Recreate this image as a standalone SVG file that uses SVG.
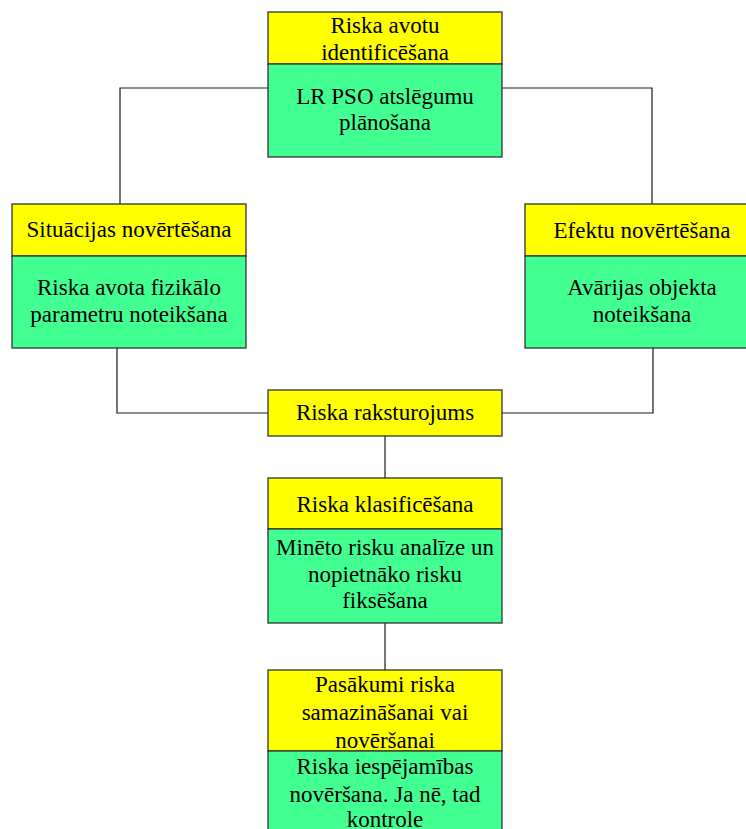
<svg xmlns="http://www.w3.org/2000/svg" width="746" height="829" viewBox="0 0 746 829">
  <style>
    .hdr { fill: #FFFF00; stroke: #333333; stroke-width: 1.3; }
    .body { fill: #42FF92; stroke: #333333; stroke-width: 1.3; }
    .lbl { font-family: "Liberation Serif", "Times New Roman", serif; font-size: 23px; fill: #000000; text-anchor: middle; }
    .wire { fill: none; stroke: #1a1a1a; stroke-width: 1.2; }
  </style>
  <rect width="746" height="829" fill="#ffffff"/>

  <!-- connectors -->
  <g id="connectors">
    <polyline class="wire" points="268,88 120,88 120,204"/>
    <polyline class="wire" points="502,88 652,88 652,204"/>
    <polyline class="wire" points="117,348 117,413 268,413"/>
    <polyline class="wire" points="653,348 653,413 502,413"/>
    <line class="wire" x1="385" y1="436" x2="385" y2="478"/>
    <line class="wire" x1="385" y1="623" x2="385" y2="670"/>
  </g>

  <!-- source identification -->
  <g id="node-identification">
    <rect class="hdr" x="268" y="12" width="234" height="52"/>
    <rect class="body" x="268" y="64" width="234" height="93"/>
    <text class="lbl" x="385" y="33">Riska avotu</text>
    <text class="lbl" x="385" y="60">identificēšana</text>
    <text class="lbl" x="385" y="104">LR PSO atslēgumu</text>
    <text class="lbl" x="385" y="130">plānošana</text>
  </g>

  <!-- situation assessment -->
  <g id="node-situation">
    <rect class="hdr" x="12" y="204" width="234" height="52"/>
    <rect class="body" x="12" y="256" width="234" height="92"/>
    <text class="lbl" x="129" y="237">Situācijas novērtēšana</text>
    <text class="lbl" x="129" y="295">Riska avota fizikālo</text>
    <text class="lbl" x="129" y="321.5">parametru noteikšana</text>
  </g>

  <!-- effect assessment -->
  <g id="node-effect">
    <rect class="hdr" x="525" y="204" width="234" height="52"/>
    <rect class="body" x="525" y="256" width="234" height="92"/>
    <text class="lbl" x="642" y="237.5">Efektu novērtēšana</text>
    <text class="lbl" x="642" y="295">Avārijas objekta</text>
    <text class="lbl" x="642" y="321.5">noteikšana</text>
  </g>

  <!-- risk characterisation -->
  <g id="node-characterisation">
    <rect class="hdr" x="268" y="390" width="234" height="46"/>
    <text class="lbl" x="385" y="420">Riska raksturojums</text>
  </g>

  <!-- risk classification -->
  <g id="node-classification">
    <rect class="hdr" x="268" y="478" width="234" height="51"/>
    <rect class="body" x="268" y="529" width="234" height="94"/>
    <text class="lbl" x="385" y="512">Riska klasificēšana</text>
    <text class="lbl" x="385" y="555">Minēto risku analīze un</text>
    <text class="lbl" x="385" y="581.5">nopietnāko risku</text>
    <text class="lbl" x="385" y="608">fiksēšana</text>
  </g>

  <!-- mitigation measures -->
  <g id="node-measures">
    <rect class="hdr" x="268" y="670" width="234" height="81"/>
    <rect class="body" x="268" y="751" width="234" height="90"/>
    <text class="lbl" x="385" y="691.5">Pasākumi riska</text>
    <text class="lbl" x="385" y="719.5">samazināšanai vai</text>
    <text class="lbl" x="385" y="747.5">novēršanai</text>
    <text class="lbl" x="385" y="774">Riska iespējamības</text>
    <text class="lbl" x="385" y="801.5">novēršana. Ja nē, tad</text>
    <text class="lbl" x="385" y="827">kontrole</text>
  </g>
</svg>
